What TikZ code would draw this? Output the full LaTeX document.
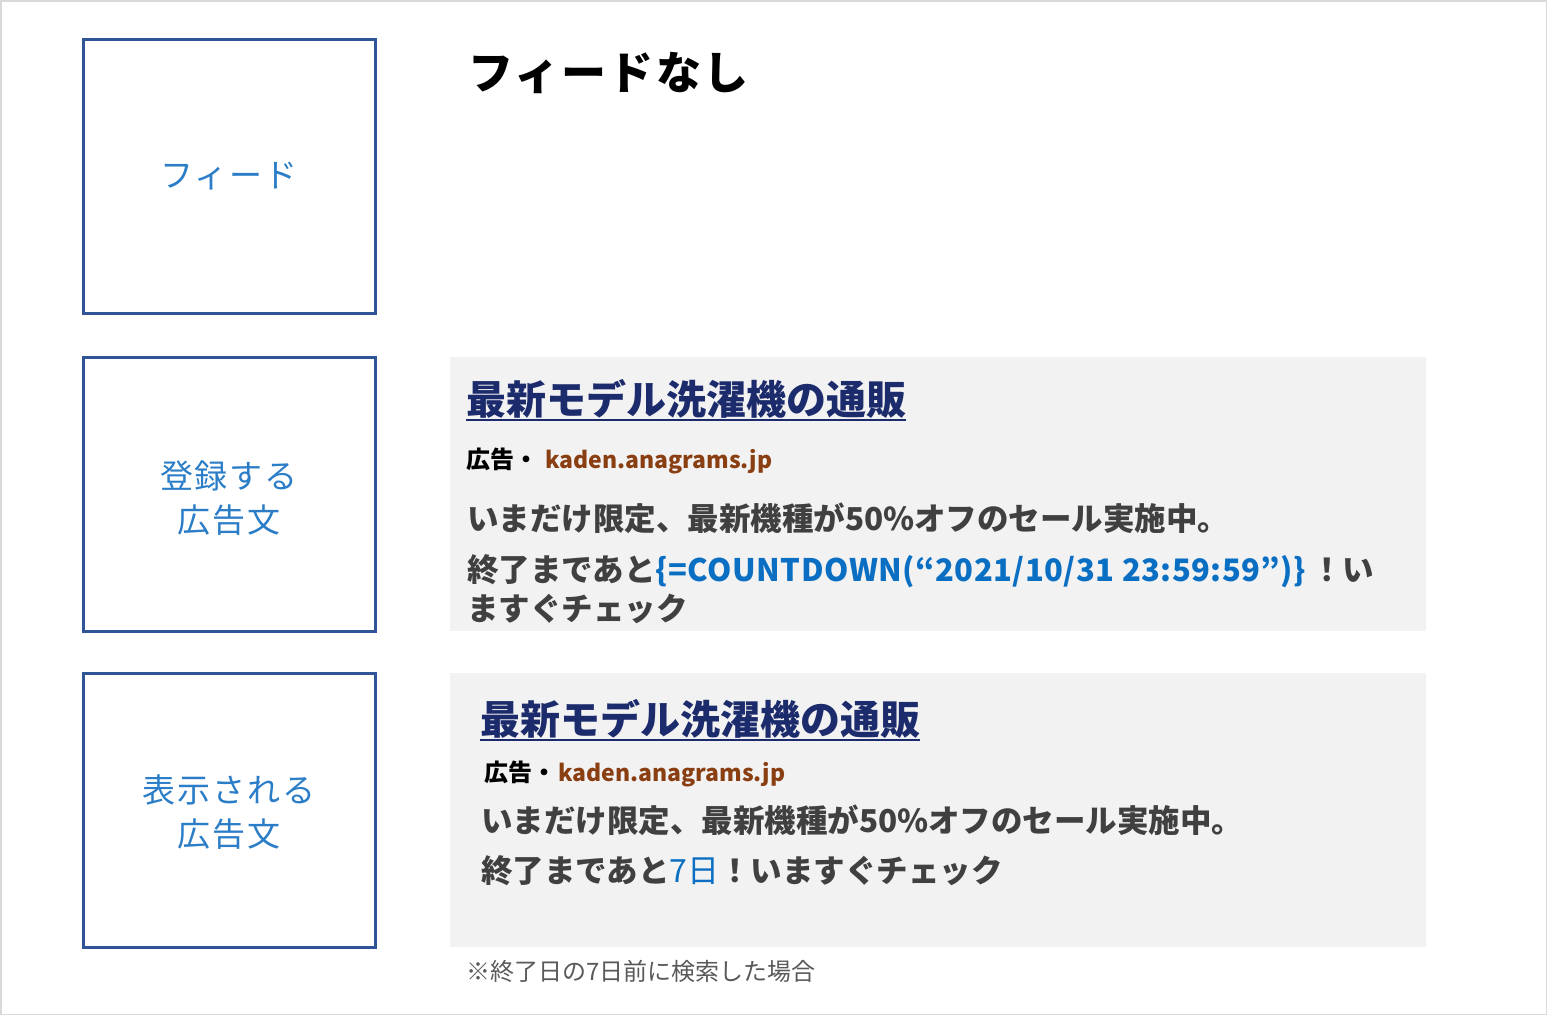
\documentclass[tikz,border=0pt]{standalone}
\usepackage{fontspec}
\setmainfont{Noto Sans CJK JP}
\usetikzlibrary{positioning}

\definecolor{boxblue}{HTML}{2F5597}
\definecolor{labelblue}{HTML}{2A7DC6}
\definecolor{titlenavy}{HTML}{1C2B6C}
\definecolor{urlbrown}{HTML}{8A3F12}
\definecolor{bodygray}{HTML}{404040}
\definecolor{cdblue}{HTML}{0A6FC2}
\definecolor{panelgray}{HTML}{F2F2F2}
\definecolor{notegray}{HTML}{595959}
\definecolor{edgegray}{HTML}{D9D9D9}

\newcommand\fsize[2]{\fontsize{#1}{#2}\selectfont}

\tikzset{
	feedbox/.style={draw=boxblue, line width=3pt, minimum width=292pt, minimum height=274pt, inner sep=0pt},
	feedlabel/.style={align=center, inner sep=0pt, text=labelblue, font=\fsize{33}{44}\addfontfeature{LetterSpace=6}},
	adpanel/.style={fill=panelgray, minimum width=976pt, minimum height=274pt, inner sep=0pt},
	adtext/.style={anchor=base west, inner sep=0pt, outer sep=0pt},
	adtitle/.style={adtext, text=titlenavy, font=\fsize{40}{40}\bfseries},
	adlabel/.style={adtext, font=\fsize{24}{24}\bfseries},
	adurl/.style={adtext, text=urlbrown, font=\fsize{23}{23}\bfseries},
	adbody/.style={adtext, text=bodygray, font=\fsize{31.5}{31.5}\bfseries}
}

\begin{document}
\begin{tikzpicture}[x=1pt, y=-1pt]
		%%%%% START %%%%%
		\useasboundingbox (0, 0) rectangle (1547, 1015);
		\draw[line width=1.5pt, color=edgegray] (0.75, 0.75) rectangle (1546.25, 1014.25);
		
		% left column
		\node[feedbox] (feedBox) at (229, 176) {};
		\node[feedbox] (sourceBox) at (229, 494) {};
		\node[feedbox] (shownBox) at (229, 810) {};
		\node[feedlabel] (feedLabel) at (feedBox.center) {フィード};
		\node[feedlabel, yshift=-4pt] (sourceLabel) at (sourceBox.center) {登録する\\広告文};
		\node[feedlabel, yshift=-2pt] (shownLabel) at (shownBox.center) {表示される\\広告文};
		
		% top row
		\node[adtext, font=\fsize{45}{45}\bfseries\addfontfeature{LetterSpace=5}] (feedTitle) at (468, 89) {フィードなし};
		
		% registered ad
		\node[adpanel] (panelA) at (938, 494) {};
		\node[adtitle] (titleA) at (466, 414) {最新モデル洗濯機の通販};
		\draw[titlenavy, line width=2.5pt] ([yshift=-6pt]titleA.base west) -- ([yshift=-6pt]titleA.base east);
		\node[adlabel] (tagA) at (466, 468) {広告・};
		\node[adurl] (urlA) at (545, 468) {kaden.anagrams.jp};
		\node[adbody] (saleA) at (467, 530) {いまだけ限定、最新機種が50\%オフのセール実施中。};
		\node[adbody] (endA) at (467, 581) {終了まであと};
		\node[adbody, text=cdblue, font=\fsize{31}{31}\bfseries\addfontfeature{LetterSpace=1.5}] (cdA) at (endA.base east) {\{=COUNTDOWN(“2021/10/31 23:59:59”)\}};
		\node[adbody] (nowA) at (cdA.base east) {\,！い};
		\node[adbody] (checkA) at (467, 620) {ますぐチェック};
		
		% shown ad
		\node[adpanel] (panelB) at (938, 810) {};
		\node[adtitle] (titleB) at (480, 734) {最新モデル洗濯機の通販};
		\draw[titlenavy, line width=2.5pt] ([yshift=-6pt]titleB.base west) -- ([yshift=-6pt]titleB.base east);
		\node[adlabel] (tagB) at (484, 781) {広告・};
		\node[adurl] (urlB) at ([xshift=2pt]tagB.base east) {kaden.anagrams.jp};
		\node[adbody] (saleB) at (481, 832) {いまだけ限定、最新機種が50\%オフのセール実施中。};
		\node[adbody] (endB) at (481, 882) {終了まであと};
		\node[adbody, text=cdblue, font=\fsize{32}{32}] (daysB) at (endB.base east) {7日};
		\node[adbody] (nowB) at (daysB.base east) {！いますぐチェック};
		
		\node[adtext, text=notegray, font=\fsize{24}{24}] (noteB) at (466, 980) {※終了日の7日前に検索した場合};
		%%%%% END %%%%%
	\end{tikzpicture}
\end{document}
